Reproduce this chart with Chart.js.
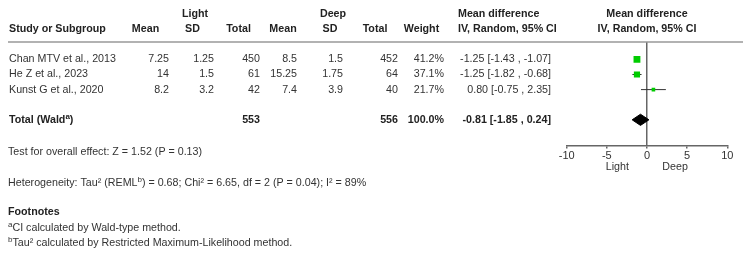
<!DOCTYPE html>
<html>
<head>
<meta charset="utf-8">
<script src="https://cdn.jsdelivr.net/npm/chart.js@4/dist/chart.umd.min.js"></script>
<style>
  html, body { margin: 0; padding: 0; background: #fff; }
  #wrap { width: 750px; height: 261px; position: relative; }
</style>
</head>
<body>
<div id="wrap"><canvas id="forest"></canvas></div>
<script>
// --- data ---
const studies = ['Chan MTV et al., 2013', 'He Z et al., 2023', 'Kunst G et al., 2020'];
const lightMean = ['7.25', '14', '8.2'];
const lightSD = ['1.25', '1.5', '3.2'];
const lightTotal = [450, 61, 42];
const deepMean = ['8.5', '15.25', '7.4'];
const deepSD = ['1.5', '1.75', '3.9'];
const deepTotal = [452, 64, 40];
const weights = [41.2, 37.1, 21.7];
const meanDiff = [-1.25, -1.25, 0.80];
const ciLow = [-1.43, -1.82, -0.75];
const ciHigh = [-1.07, -0.68, 2.35];
const pooled = { md: -0.81, lo: -1.85, hi: 0.24, nLight: 553, nDeep: 556 };
const xTicks = [-10, -5, 0, 5, 10];
const studyRows = [1, 2, 3];
const totalRow = 5;

const FONT = 'Arial, "Liberation Sans", sans-serif';
const FS = 10.7;
const TXT = '#333';
const fmt = v => v.toFixed(2);

// whiskers, one dataset per study
const ciSets = studies.map((s, i) => ({
  type: 'line',
  data: [{ x: ciLow[i], y: studyRows[i] }, { x: ciHigh[i], y: studyRows[i] }],
  borderColor: '#333',
  borderWidth: 1,
  pointRadius: 0,
  showLine: true,
  order: 2
}));

const squareSet = {
  type: 'scatter',
  data: studies.map((s, i) => ({ x: meanDiff[i], y: studyRows[i] })),
  pointStyle: 'rect',
  pointRadius: weights.map(w => w / 8.5),
  backgroundColor: '#00cc00',
  borderWidth: 0,
  order: 1
};

const diamondSet = {
  type: 'line',
  data: [
    { x: pooled.lo, y: totalRow },
    { x: pooled.md, y: totalRow - 0.37 },
    { x: pooled.hi, y: totalRow },
    { x: pooled.md, y: totalRow + 0.37 },
    { x: pooled.lo, y: totalRow }
  ],
  borderColor: '#000',
  borderWidth: 1,
  backgroundColor: '#000',
  fill: 'shape',
  pointRadius: 0,
  showLine: true,
  tension: 0,
  order: 1
};

// draw a string made of normal and superscript parts
function rich(ctx, x, y, parts, bold, align) {
  const big = (bold ? 'bold ' : '') + FS + 'px ' + FONT;
  const small = (bold ? 'bold ' : '') + '8px ' + FONT;
  let total = 0;
  parts.forEach(p => { ctx.font = p[1] ? small : big; total += ctx.measureText(p[0]).width; });
  let cx = align === 'right' ? x - total : align === 'center' ? x - total / 2 : x;
  ctx.textAlign = 'left';
  parts.forEach(p => {
    ctx.font = p[1] ? small : big;
    ctx.fillText(p[0], cx, p[1] ? y - 3 : y);
    cx += ctx.measureText(p[0]).width;
  });
}

function txt(ctx, s, x, y, align, bold) {
  ctx.font = (bold ? 'bold ' : '') + FS + 'px ' + FONT;
  ctx.textAlign = align;
  ctx.fillText(s, x, y);
}

const tablePlugin = {
  id: 'table',
  afterDraw(chart) {
    const ctx = chart.ctx;
    const ys = chart.scales.y;
    const xs = chart.scales.x;
    ctx.save();
    ctx.textBaseline = 'middle';

    // header
    ctx.fillStyle = '#222';
    txt(ctx, 'Light', 195, 14, 'center', true);
    txt(ctx, 'Deep', 333, 14, 'center', true);
    txt(ctx, 'Mean difference', 458, 14, 'left', true);
    txt(ctx, 'Mean difference', 647, 14, 'center', true);
    txt(ctx, 'Study or Subgroup', 9, 29, 'left', true);
    txt(ctx, 'Mean', 145.5, 29, 'center', true);
    txt(ctx, 'SD', 192.5, 29, 'center', true);
    txt(ctx, 'Total', 238.5, 29, 'center', true);
    txt(ctx, 'Mean', 283, 29, 'center', true);
    txt(ctx, 'SD', 330, 29, 'center', true);
    txt(ctx, 'Total', 375, 29, 'center', true);
    txt(ctx, 'Weight', 421.5, 29, 'center', true);
    txt(ctx, 'IV, Random, 95% CI', 458, 29, 'left', true);
    txt(ctx, 'IV, Random, 95% CI', 647, 29, 'center', true);

    ctx.strokeStyle = '#999';
    ctx.lineWidth = 1.5;
    ctx.beginPath();
    ctx.moveTo(8, chart.chartArea.top);
    ctx.lineTo(743, chart.chartArea.top);
    ctx.stroke();

    // study rows
    ctx.fillStyle = TXT;
    studies.forEach((s, i) => {
      const y = ys.getPixelForValue(studyRows[i]);
      txt(ctx, s, 9, y, 'left');
      txt(ctx, lightMean[i], 169, y, 'right');
      txt(ctx, lightSD[i], 214, y, 'right');
      txt(ctx, String(lightTotal[i]), 260, y, 'right');
      txt(ctx, deepMean[i], 297, y, 'right');
      txt(ctx, deepSD[i], 343, y, 'right');
      txt(ctx, String(deepTotal[i]), 398, y, 'right');
      txt(ctx, weights[i].toFixed(1) + '%', 444, y, 'right');
      txt(ctx, fmt(meanDiff[i]) + ' [' + fmt(ciLow[i]) + ' , ' + fmt(ciHigh[i]) + ']', 551, y, 'right');
    });

    // total row
    const yt = ys.getPixelForValue(totalRow);
    ctx.fillStyle = '#222';
    rich(ctx, 9, yt, [['Total (Wald'], ['a', true], [')']], true, 'left');
    txt(ctx, String(pooled.nLight), 260, yt, 'right', true);
    txt(ctx, String(pooled.nDeep), 398, yt, 'right', true);
    txt(ctx, '100.0%', 444, yt, 'right', true);
    txt(ctx, fmt(pooled.md) + ' [' + fmt(pooled.lo) + ' , ' + fmt(pooled.hi) + ']', 551, yt, 'right', true);

    // axis captions
    ctx.fillStyle = TXT;
    txt(ctx, 'Light', xs.getPixelForValue(-3.7), 167, 'center');
    txt(ctx, 'Deep', xs.getPixelForValue(3.5), 167, 'center');

    // footer
    txt(ctx, 'Test for overall effect: Z = 1.52 (P = 0.13)', 8, 152, 'left');
    rich(ctx, 8, 183, [['Heterogeneity: Tau² (REML'], ['b', true], [') = 0.68; Chi² = 6.65, df = 2 (P = 0.04); I² = 89%']], false, 'left');
    ctx.fillStyle = '#222';
    txt(ctx, 'Footnotes', 8, 212, 'left', true);
    ctx.fillStyle = TXT;
    rich(ctx, 8, 228, [['a', true], ['CI calculated by Wald-type method.']], false, 'left');
    rich(ctx, 8, 243, [['b', true], ['Tau² calculated by Restricted Maximum-Likelihood method.']], false, 'left');
    ctx.restore();
  }
};

new Chart(document.getElementById('forest'), {
  type: 'scatter',
  data: { datasets: [...ciSets, squareSet, diamondSet] },
  options: {
    responsive: true,
    maintainAspectRatio: false,
    animation: false,
    layout: { padding: { left: 566.7, right: 22.7, top: 42, bottom: 95.5 } },
    plugins: { legend: { display: false }, tooltip: { enabled: false } },
    scales: {
      x: {
        type: 'linear',
        min: -10,
        max: 10,
        afterBuildTicks: s => { s.ticks = xTicks.map(v => ({ value: v })); },
        afterFit: s => { s.height = 20; },
        border: { display: true, color: '#666', width: 1.5 },
        grid: {
          drawOnChartArea: true,
          color: c => (c.tick && c.tick.value === 0 ? '#666' : 'rgba(0,0,0,0)'),
          lineWidth: 1.5,
          drawTicks: true,
          tickLength: 3,
          tickColor: '#666',
          tickWidth: 1.5
        },
        ticks: { color: TXT, font: { family: FONT, size: 11 }, padding: 1, maxRotation: 0 }
      },
      y: {
        type: 'linear',
        display: false,
        reverse: true,
        min: -0.15,
        max: 6.7
      }
    }
  },
  plugins: [tablePlugin]
});
</script>
</body>
</html>
